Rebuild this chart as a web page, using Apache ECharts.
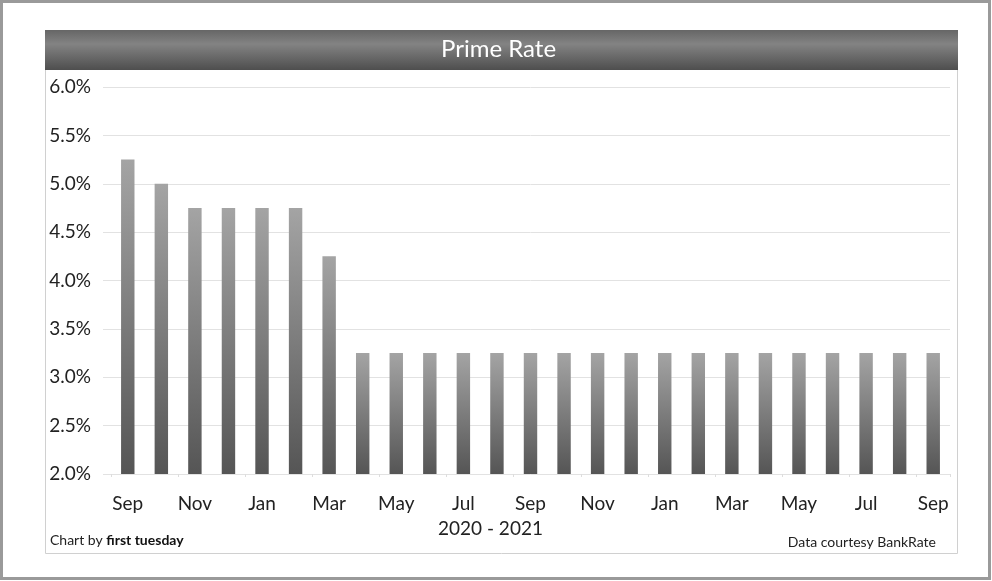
<!DOCTYPE html>
<html>
<head>
<meta charset="utf-8">
<script src="https://cdn.jsdelivr.net/npm/echarts@6/dist/echarts.min.js"></script>
<style>
  html, body { margin: 0; padding: 0; background: #fff; }
  #chart { width: 992px; height: 581px; }
</style>
</head>
<body>
<div id="chart"></div>
<script>
// Monthly prime rate, Sep through the following Sep two years on
const months = ['Sep', 'Oct', 'Nov', 'Dec', 'Jan', 'Feb', 'Mar', 'Apr', 'May', 'Jun', 'Jul', 'Aug',
                'Sep', 'Oct', 'Nov', 'Dec', 'Jan', 'Feb', 'Mar', 'Apr', 'May', 'Jun', 'Jul', 'Aug', 'Sep'];
const primeRate = [5.25, 5.0, 4.75, 4.75, 4.75, 4.75, 4.25, 3.25, 3.25, 3.25, 3.25, 3.25,
                   3.25, 3.25, 3.25, 3.25, 3.25, 3.25, 3.25, 3.25, 3.25, 3.25, 3.25, 3.25, 3.25];
const yTicks = { min: 2.0, max: 6.0, step: 0.5 };
const titleText = 'Prime Rate';
const periodText = '2020 - 2021';
const creditLeft = 'Chart by ';
const creditLeftBold = 'first tuesday';
const creditRight = 'Data courtesy BankRate';

const FONT = 'Lato, "Open Sans", sans-serif';
const chart = echarts.init(document.getElementById('chart'), null, { renderer: 'canvas' });

chart.setOption({
  backgroundColor: '#fff',
  animation: false,
  textStyle: { fontFamily: FONT },
  graphic: [
    // outer frame
    { type: 'rect', shape: { x: 1.5, y: 1.5, width: 988, height: 577 },
      style: { fill: 'none', stroke: '#9a9a9a', lineWidth: 3 }, z: 0 },
    // chart panel
    { type: 'rect', shape: { x: 45.5, y: 30.5, width: 912, height: 523 },
      style: { fill: '#fff', stroke: '#d0d0d0', lineWidth: 1 }, z: 0 },
    // title bar
    { type: 'rect', shape: { x: 45, y: 30, width: 913, height: 40 },
      style: {
        fill: new echarts.graphic.LinearGradient(0, 0, 0, 1, [
          { offset: 0, color: '#666666' },
          { offset: 0.35, color: '#838383' },
          { offset: 1, color: '#4e4e4e' }
        ])
      }, z: 1 },
    { type: 'text', left: 441, top: 37, z: 2,
      style: { text: titleText, fill: '#fff', font: '24px ' + FONT } },
    { type: 'text', left: 438, top: 519, z: 2,
      style: { text: periodText, fill: '#222', font: '19px ' + FONT } },
    { type: 'text', left: 50, top: 533, z: 2,
      style: {
        text: '{n|' + creditLeft + '}{b|' + creditLeftBold + '}',
        rich: {
          n: { fontSize: 14, fontFamily: FONT, fill: '#222' },
          b: { fontSize: 14, fontFamily: FONT, fontWeight: 'bold', fill: '#111' }
        }
      } },
    { type: 'text', right: 56, top: 535, z: 2,
      style: { text: creditRight, fill: '#222', font: '14px ' + FONT } }
  ],
  grid: {
    left: 111, right: 42, top: 87, bottom: 107,
    show: true, borderColor: '#666', borderWidth: 2, backgroundColor: 'transparent'
  },
  xAxis: {
    type: 'category',
    data: months,
    axisLine: { show: false },
    axisTick: { show: true, length: 3, lineStyle: { color: '#ddd' } },
    axisLabel: { interval: 1, color: '#222', fontSize: 19, margin: 20, fontFamily: FONT }
  },
  yAxis: {
    type: 'value',
    min: yTicks.min, max: yTicks.max, interval: yTicks.step,
    axisLine: { show: false },
    axisTick: { show: true, length: 8, lineStyle: { color: '#e2e2e2' } },
    splitLine: { lineStyle: { color: '#e2e2e2', width: 1 } },
    axisLabel: {
      color: '#222', fontSize: 19, margin: 20, fontFamily: FONT,
      formatter: v => v.toFixed(1) + '%'
    }
  },
  series: [{
    type: 'bar',
    data: primeRate,
    barWidth: '40%',
    itemStyle: {
      color: new echarts.graphic.LinearGradient(0, 0, 0, 1, [
        { offset: 0, color: '#a4a4a4' },
        { offset: 1, color: '#555555' }
      ])
    }
  }]
});
</script>
</body>
</html>
